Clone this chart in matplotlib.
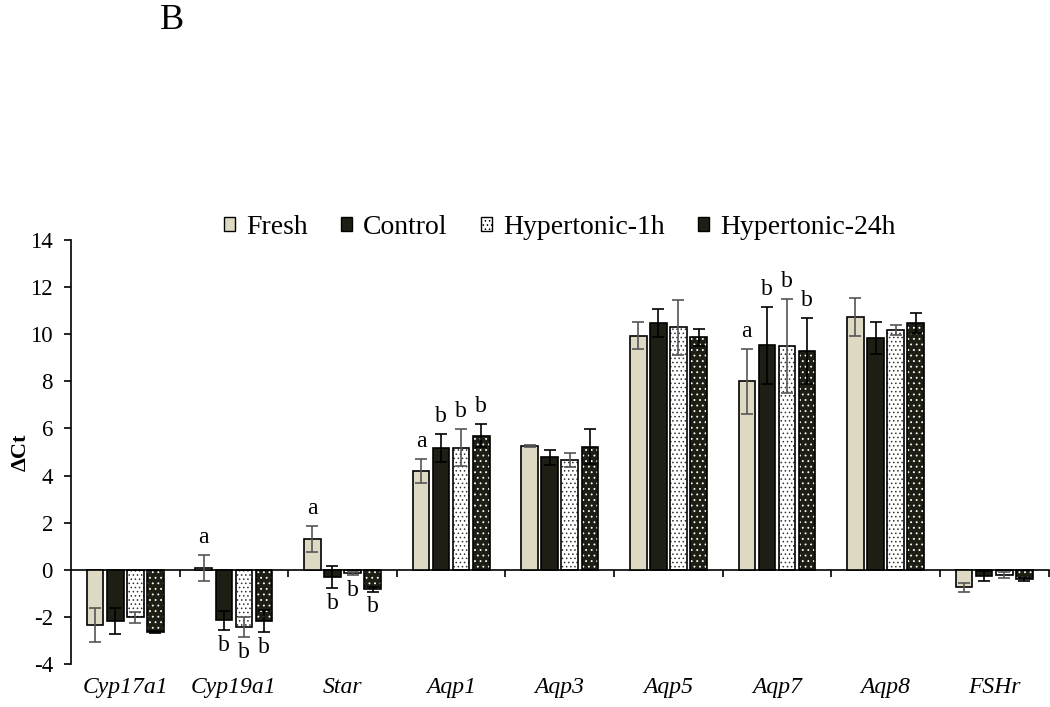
# Recreating the ΔCt grouped bar chart (panel B)
import matplotlib
matplotlib.use("Agg")
import matplotlib.pyplot as plt
import numpy as np

plt.rcParams['font.family'] = ['Liberation Serif', 'DejaVu Serif']
plt.rcParams['hatch.linewidth'] = 0.6
plt.rcParams['axes.unicode_minus'] = False

# Data
genes = ['Cyp17a1', 'Cyp19a1', 'Star', 'Aqp1', 'Aqp3', 'Aqp5', 'Aqp7', 'Aqp8', 'FSHr']
groups = ['Fresh', 'Control', 'Hypertonic-1h', 'Hypertonic-24h']

fresh = [-2.35, 0.07, 1.30, 4.20, 5.25, 9.94, 8.00, 10.73, -0.75]
control = [-2.17, -2.15, -0.31, 5.17, 4.77, 10.48, 9.53, 9.84, -0.27]
hyp1h = [-2.02, -2.43, -0.15, 5.19, 4.67, 10.29, 9.50, 10.19, -0.22]
hyp24h = [-2.64, -2.17, -0.83, 5.70, 5.22, 9.87, 9.27, 10.48, -0.40]

fresh_err = [0.72, 0.54, 0.54, 0.50, 0.03, 0.57, 1.37, 0.82, 0.18]
control_err = [0.54, 0.40, 0.48, 0.60, 0.32, 0.58, 1.63, 0.68, 0.22]
hyp1h_err = [0.24, 0.42, 0.07, 0.80, 0.30, 1.18, 2.00, 0.21, 0.12]
hyp24h_err = [0.05, 0.48, 0.10, 0.48, 0.74, 0.36, 1.40, 0.42, 0.07]

# letras de significância (vazio = sem letra)
fresh_sig = ['', 'a', 'a', 'a', '', '', 'a', '', '']
control_sig = ['', 'b', 'b', 'b', '', '', 'b', '', '']
hyp1h_sig = ['', 'b', 'b', 'b', '', '', 'b', '', '']
hyp24h_sig = ['', 'b', 'b', 'b', '', '', 'b', '', '']

values = [fresh, control, hyp1h, hyp24h]
errors = [fresh_err, control_err, hyp1h_err, hyp24h_err]
letters = [fresh_sig, control_sig, hyp1h_sig, hyp24h_sig]

# Estilos
face = ['#ddd9c3', '#1e1e14', 'white', '#1e1e14']
hatch = [None, None, '....', '...']
hatch_col = [None, None, '#333333', 'white']
err_col = ['#555555', 'black', '#555555', 'black']

fig = plt.figure(figsize=(10.5, 7.07), dpi=100)
ax = fig.add_axes([0.0676, 0.0608, 0.931, 0.5997])

x = np.arange(len(genes)) + 0.5
width = 0.153
step = 0.185

for i in range(4):
    xi = x + (i - 1.5) * step
    v = np.array(values[i])
    e = np.array(errors[i])
    if hatch[i]:
        # fundo com pontilhado, depois contorno preto por cima
        ax.bar(xi, v, width, color=face[i], edgecolor=hatch_col[i], hatch=hatch[i],
               linewidth=0, zorder=2)
        ax.bar(xi, v, width, fill=False, edgecolor='black', linewidth=1.2, zorder=3)
    else:
        ax.bar(xi, v, width, color=face[i], edgecolor='black', linewidth=1.2, zorder=3)
    ax.errorbar(xi, v, yerr=e, fmt='none', ecolor=err_col[i], elinewidth=1.2,
                capsize=4, capthick=1.2, zorder=4)
    # letras
    for xx, vv, ee, lt in zip(xi, v, e, letters[i]):
        if lt:
            if vv >= 0:
                ax.text(xx, vv + ee + 0.3, lt, ha='center', va='bottom', fontsize=17)
            else:
                ax.text(xx, vv - ee - 0.2, lt, ha='center', va='top', fontsize=17)

ax.set_xlim(0, len(genes))
ax.set_ylim(-4, 14)
ax.set_yticks(np.arange(-4, 15, 2))
ax.tick_params(axis='y', direction='out', length=5, width=1.2, labelsize=16.5, pad=8)

ax.spines['top'].set_visible(False)
ax.spines['right'].set_visible(False)
ax.spines['left'].set_linewidth(1.2)
ax.spines['bottom'].set_position(('data', 0))
ax.spines['bottom'].set_linewidth(1.2)
ax.set_xticks(np.arange(1, len(genes) + 1))
ax.set_xticklabels([])
ax.tick_params(axis='x', direction='out', length=5, width=1.2)

for xx, g in zip(x, genes):
    ax.text(xx, -0.03, g, transform=ax.get_xaxis_transform(), ha='center', va='top',
            fontsize=17, style='italic')

ax.set_ylabel('ΔCt', fontsize=16, fontweight='bold')
ax.yaxis.set_label_coords(-0.041, 0.5)

ax.legend([plt.Rectangle((0, 0), 1, 1, fc=face[0], ec='black'),
           plt.Rectangle((0, 0), 1, 1, fc=face[1], ec='black'),
           plt.Rectangle((0, 0), 1, 1, fc=face[2], ec='black', hatch='....'),
           plt.Rectangle((0, 0), 1, 1, fc=face[3], ec='black')],
          groups, loc='lower center', bbox_to_anchor=(0.5, 0.955), ncol=4, frameon=False,
          fontsize=20, handlelength=0.4, handleheight=0.4, handletextpad=0.4,
          columnspacing=1.2, borderpad=0.2)

fig.text(0.164, 0.995, 'B', fontsize=26, ha='center', va='top')

fig.savefig('out.png', dpi=100)
